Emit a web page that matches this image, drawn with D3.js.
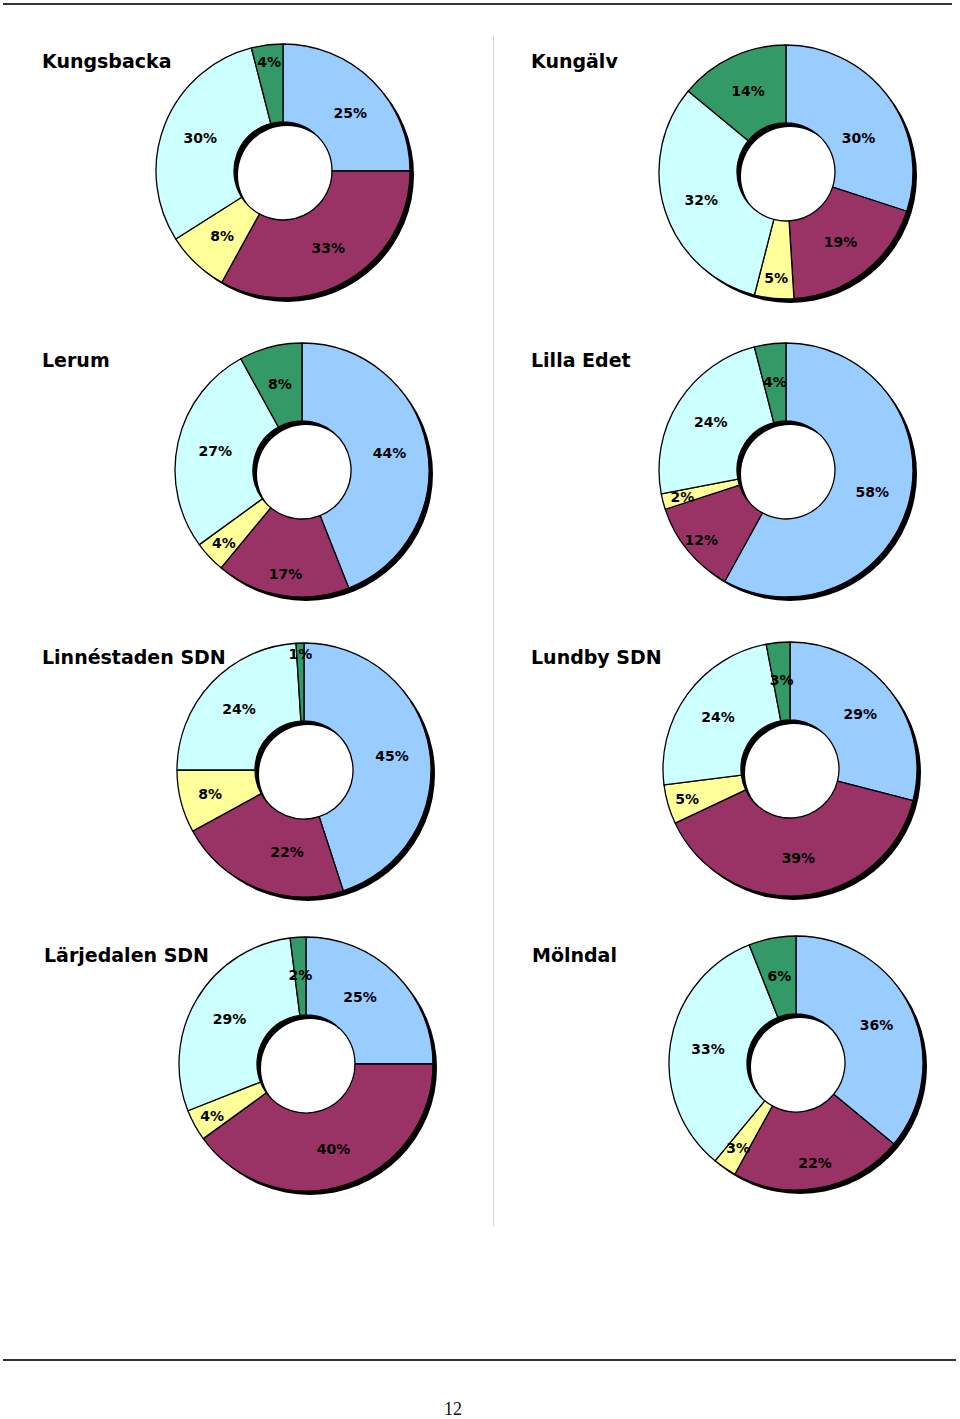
<!DOCTYPE html>
<html>
<head>
<meta charset="utf-8">
<script src="https://cdn.jsdelivr.net/npm/d3@7/dist/d3.min.js"></script>
<style>
  html, body { margin: 0; padding: 0; background: #fff; }
  svg { display: block; }
</style>
</head>
<body>
<script>
// ---------- DATA ----------
const areas = ["Kungsbacka", "Kungälv", "Lerum", "Lilla Edet",
               "Linnéstaden SDN", "Lundby SDN", "Lärjedalen SDN", "Mölndal"];
// slice order (clockwise from 12 o'clock): blue, maroon, yellow, cyan, green
const categories = ["Kategori 1", "Kategori 2", "Kategori 3", "Kategori 4", "Kategori 5"];
const kungsbacka  = [25, 33, 8, 30, 4];
const kungalv     = [30, 19, 5, 32, 14];
const lerum       = [44, 17, 4, 27, 8];
const lillaEdet   = [58, 12, 2, 24, 4];
const linnestaden = [45, 22, 8, 24, 1];
const lundby      = [29, 39, 5, 24, 3];
const larjedalen  = [25, 40, 4, 29, 2];
const molndal     = [36, 22, 3, 33, 6];
const seriesValues = [kungsbacka, kungalv, lerum, lillaEdet, linnestaden, lundby, larjedalen, molndal];
const pageNumber = "12";

// ---------- LAYOUT ----------
const W = 960, H = 1419;
const colors = ["#99CCFF", "#993366", "#FFFF99", "#CCFFFF", "#339966"];
const centers = [[283, 171], [786, 172], [302, 470], [786, 470],
                 [304, 770], [790, 769], [306, 1064], [796, 1063]];
const titlePos = [[42, 68], [531, 68], [42, 367], [531, 367],
                  [42, 664], [531, 664], [44, 962], [532, 962]];
const outerR = 127, innerR = 49, shadowOff = 4, labelR = 89;
// label placement adjustments for crowded slices: chart -> slice -> {r, da (deg)}
const labelAdjust = {
  0: {0: {da: 4}, 4: {r: 110}},
  1: {0: {r: 80, da: 11}, 2: {r: 106}},
  2: {2: {r: 107}, 1: {r: 105}},
  3: {2: {r: 107}, 1: {r: 110}},
  4: {4: {r: 116}, 2: {r: 97}, 1: {r: 84, da: -10}},
  5: {2: {r: 107}},
  6: {0: {r: 86, da: -6}, 2: {r: 107}},
  7: {1: {r: 102}, 2: {r: 103}}
};

const svg = d3.select("body").append("svg")
  .attr("width", W).attr("height", H)
  .attr("font-family", "'DejaVu Sans', Verdana, sans-serif");

// page rules
svg.append("line").attr("x1", 3).attr("x2", 952).attr("y1", 4).attr("y2", 4)
  .attr("stroke", "#333").attr("stroke-width", 2);
svg.append("line").attr("x1", 3).attr("x2", 956).attr("y1", 1360).attr("y2", 1360)
  .attr("stroke", "#333").attr("stroke-width", 2);
svg.append("line").attr("x1", 493.5).attr("x2", 493.5).attr("y1", 36).attr("y2", 1226)
  .attr("stroke", "#d4d4d4").attr("stroke-width", 1);

svg.append("text").attr("x", 453).attr("y", 1415)
  .attr("text-anchor", "middle")
  .attr("font-family", "'Liberation Serif', 'Times New Roman', serif")
  .attr("font-size", 18).attr("fill", "#111")
  .text(pageNumber);

const pie = d3.pie().sort(null).value(d => d);
const arc = d3.arc().innerRadius(innerR).outerRadius(outerR);
const ring = d3.arc().innerRadius(innerR).outerRadius(outerR).startAngle(0).endAngle(2 * Math.PI);

areas.forEach((name, i) => {
  const [cx, cy] = centers[i];
  svg.append("text")
    .attr("x", titlePos[i][0]).attr("y", titlePos[i][1])
    .attr("font-size", 19).attr("font-weight", "bold").attr("fill", "#000")
    .text(name);

  // shadow
  svg.append("path")
    .attr("transform", `translate(${cx + shadowOff},${cy + shadowOff})`)
    .attr("d", ring()).attr("fill", "#000");

  const g = svg.append("g").attr("transform", `translate(${cx},${cy})`);
  const arcs = pie(seriesValues[i]);
  g.selectAll("path.slice").data(arcs).enter().append("path")
    .attr("class", "slice")
    .attr("d", arc)
    .attr("fill", (d, j) => colors[j])
    .attr("stroke", "#000").attr("stroke-width", 1.3).attr("stroke-linejoin", "round");

  g.selectAll("text.lbl").data(arcs).enter().append("text")
    .attr("class", "lbl")
    .attr("transform", (d, j) => {
      const adj = (labelAdjust[i] || {})[j] || {};
      const r = adj.r !== undefined ? adj.r : labelR;
      const da = (adj.da || 0) * Math.PI / 180;
      const c = d3.arc().innerRadius(r).outerRadius(r)
        .startAngle(d.startAngle + da).endAngle(d.endAngle + da).centroid();
      return `translate(${c[0]},${c[1]})`;
    })
    .attr("text-anchor", "middle").attr("dominant-baseline", "central")
    .attr("font-size", 14).attr("font-weight", "bold").attr("fill", "#000")
    .text(d => d.data + "%");
});
</script>
</body>
</html>
